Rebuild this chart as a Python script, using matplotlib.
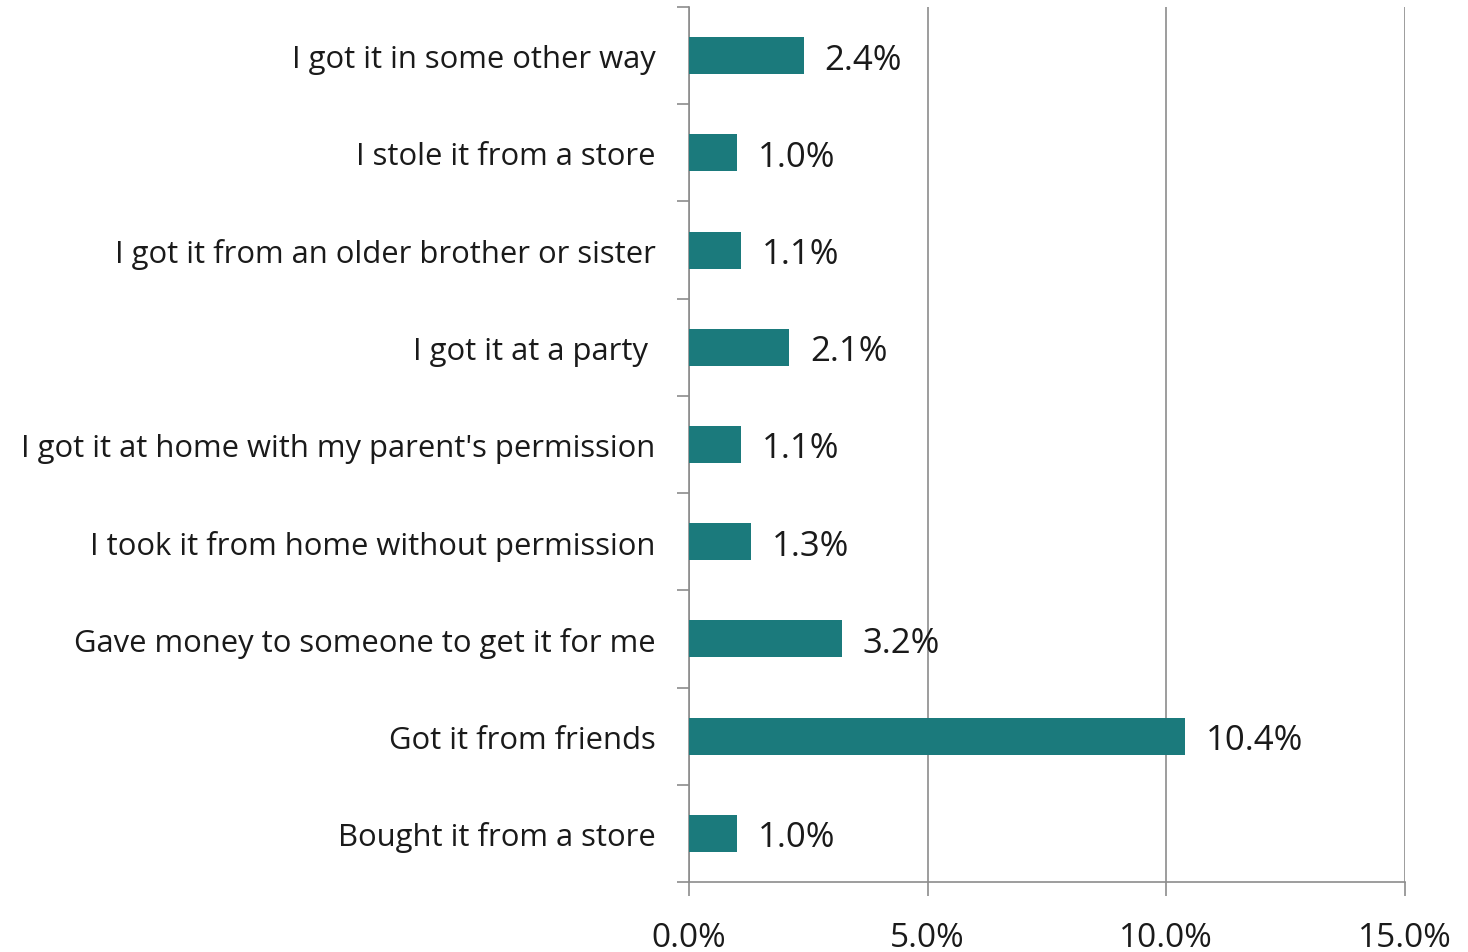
import numpy as np
import matplotlib
matplotlib.use("Agg")
import matplotlib.pyplot as plt
from matplotlib.ticker import FixedLocator, FuncFormatter

# bottom to top, as drawn on the axis
sources = [
    "Bought it from a store",
    "Got it from friends",
    "Gave money to someone to get it for me",
    "I took it from home without permission",
    "I got it at home with my parent's permission",
    "I got it at a party ",
    "I got it from an older brother or sister",
    "I stole it from a store",
    "I got it in some other way",
]
share = [1.0, 10.4, 3.2, 1.3, 1.1, 2.1, 1.1, 1.0, 2.4]
xticks = [0, 5, 10, 15]

bar_color = "#1b7a7c"
axis_gray = "#8c8c8c"
text_color = "#1a1a1a"
plt.rcParams["font.family"] = ["Open Sans", "DejaVu Sans"]

fig = plt.figure(figsize=(14.68, 9.53), dpi=100)
ax = fig.add_axes([0.4693, 0.0735, 0.4878, 0.9181])

y = np.arange(len(sources))
ax.barh(y, share, height=0.38, color=bar_color, zorder=3)

for yi, v in zip(y, share):
    ax.annotate(f"{v:.1f}%", (v, yi), xytext=(15, 0), textcoords="offset points",
                va="center_baseline", ha="left", fontsize=25, color=text_color,
                zorder=4)

ax.set_xlim(0, 15)
ax.set_ylim(-0.5, len(sources) - 0.5)
ax.set_xticks(xticks)
ax.xaxis.set_major_formatter(FuncFormatter(lambda v, _: f"{v:.1f}%"))
ax.tick_params(axis="x", length=10, width=1.2, color=axis_gray, pad=18,
               labelsize=24, labelcolor=text_color)

ax.set_yticks(y)
ax.set_yticklabels(sources)
ax.yaxis.set_minor_locator(FixedLocator(np.arange(-0.5, len(sources), 1.0)))
ax.tick_params(axis="y", which="major", length=0, pad=24, labelsize=22.3,
               labelcolor=text_color)
ax.tick_params(axis="y", which="minor", length=8.5, width=1.2, color=axis_gray)

ax.grid(axis="x", color=axis_gray, linewidth=1.2, zorder=0)
for side in ("top", "right"):
    ax.spines[side].set_visible(False)
for side in ("left", "bottom"):
    ax.spines[side].set_color(axis_gray)
    ax.spines[side].set_linewidth(1.2)

fig.savefig("out.png", dpi=100)
